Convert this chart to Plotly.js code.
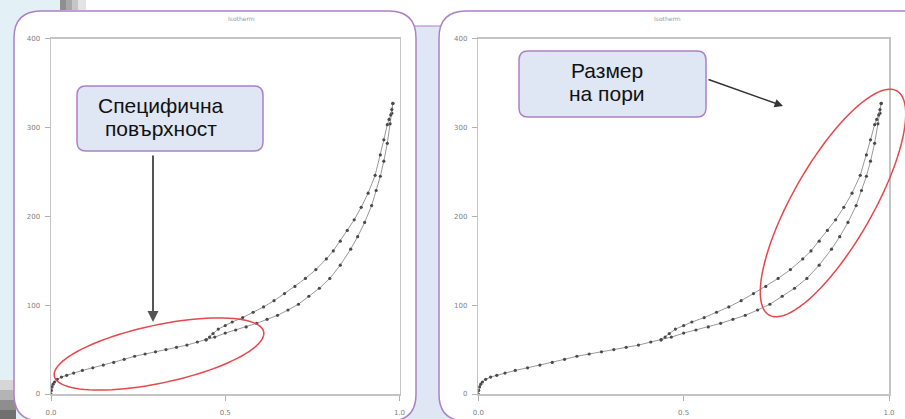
<!DOCTYPE html>
<html>
<head>
<meta charset="utf-8">
<script src="https://cdn.plot.ly/plotly-3.0.1.min.js"></script>
<style>
  html, body { margin: 0; padding: 0; background: #ffffff; }
  #chart { width: 905px; height: 419px; }
</style>
</head>
<body>
<div id="chart"></div>
<script>
// ---- data ----
const chartTitle = "Isotherm";
const adsP = [0.0, 0.001, 0.003, 0.006, 0.01, 0.018, 0.03, 0.045, 0.065, 0.09, 0.12, 0.15, 0.18, 0.21, 0.24, 0.27, 0.30, 0.33, 0.36, 0.39, 0.42, 0.445, 0.47, 0.50, 0.53, 0.56, 0.59, 0.62, 0.65, 0.68, 0.71, 0.74, 0.77, 0.80, 0.83, 0.86, 0.88, 0.90, 0.92, 0.933, 0.945, 0.955, 0.965, 0.973, 0.978, 0.981];
const adsN = [0, 4, 8, 11, 13.5, 16.5, 19, 21, 23.5, 26.5, 29.5, 32.5, 35.5, 39, 42.5, 45, 47.5, 50, 52.5, 55, 58.5, 61, 64, 68.5, 72, 75.5, 79.5, 84, 88.5, 94.5, 101, 110, 119, 130, 145, 163, 177, 193, 212, 229, 245, 262, 282, 304, 316, 327];
const desP = [0.981, 0.978, 0.975, 0.97, 0.965, 0.955, 0.945, 0.93, 0.91, 0.89, 0.87, 0.85, 0.83, 0.81, 0.79, 0.76, 0.73, 0.70, 0.67, 0.64, 0.61, 0.58, 0.55, 0.52, 0.50, 0.48, 0.465, 0.455, 0.445];
const desN = [327, 320, 314, 309, 303, 286, 269, 246, 226, 210, 196, 184, 172, 161, 152, 140, 130, 121, 113, 105, 98, 92, 86, 81, 77, 73, 68, 64, 61];
const yTickVals = [0, 100, 200, 300, 400];
const yTickText = ["0", "100", "200", "300", "400"];
const xTickVals = [0, 0.5, 1.0];
const xTickText = ["0.0", "0.5", "1.0"];
const leftLabel = ["Специфична", "повърхност"];
const rightLabel = ["Размер", "на пори"];

// ---- helpers (pixel -> paper) ----
const W = 905, H = 419;
const px = X => X / W;
const py = Y => 1 - Y / H;

function roundRect(x0, y0, x1, y1, r) {
  const P = (X, Y) => px(X) + ',' + py(Y);
  return 'M' + P(x0 + r, y0) + ' L' + P(x1 - r, y0) + ' Q' + P(x1, y0) + ' ' + P(x1, y0 + r) +
    ' L' + P(x1, y1 - r) + ' Q' + P(x1, y1) + ' ' + P(x1 - r, y1) +
    ' L' + P(x0 + r, y1) + ' Q' + P(x0, y1) + ' ' + P(x0, y1 - r) +
    ' L' + P(x0, y0 + r) + ' Q' + P(x0, y0) + ' ' + P(x0 + r, y0) + ' Z';
}
function ellipsePath(cx, cy, a, b, deg) {
  const th = deg * Math.PI / 180;
  let s = '';
  for (let i = 0; i <= 96; i++) {
    const t = 2 * Math.PI * i / 96;
    const X = cx + a * Math.cos(t) * Math.cos(th) - b * Math.sin(t) * Math.sin(th);
    const Y = cy - (a * Math.cos(t) * Math.sin(th) + b * Math.sin(t) * Math.cos(th));
    s += (i === 0 ? 'M' : ' L') + px(X) + ',' + py(Y);
  }
  return s + ' Z';
}
function rectShape(x0, y0, x1, y1, fill, extra) {
  return Object.assign({type: 'rect', xref: 'paper', yref: 'paper', layer: 'below',
    x0: px(x0), x1: px(x1), y0: py(y1), y1: py(y0), fillcolor: fill, line: {width: 0}}, extra || {});
}

// ---- traces ----
const lineStyle = {color: '#999999', width: 1};
const markerStyle = {color: '#4a4a4a', size: 3.2, line: {width: 0}};
function branch(xs, ys, xa, ya) {
  return {type: 'scatter', mode: 'lines+markers', x: xs, y: ys, xaxis: xa, yaxis: ya,
    line: lineStyle, marker: markerStyle, hoverinfo: 'skip', showlegend: false};
}
const data = [
  branch(adsP, adsN, 'x', 'y'),
  branch(desP, desN, 'x', 'y'),
  branch(adsP, adsN, 'x2', 'y2'),
  branch(desP, desN, 'x2', 'y2')
];

// ---- axes ----
const tickFont = {family: 'DejaVu Sans, Arial, sans-serif', size: 7, color: '#808080'};
function xAxis(d0, d1, anchor) {
  return {domain: [px(d0), px(d1)], range: [0, 1], anchor: anchor, tickvals: xTickVals, ticktext: xTickText,
    showgrid: false, zeroline: false, showline: true, mirror: true, linecolor: '#c4c4c4', linewidth: 1.5,
    ticks: 'outside', ticklen: 5, tickcolor: '#b0b0b0', tickwidth: 1, tickfont: tickFont, ticklabelstandoff: 6,
    fixedrange: true};
}
function yAxis(anchor) {
  return {domain: [py(394), py(38.5)], range: [0, 400], anchor: anchor, tickvals: yTickVals, ticktext: yTickText,
    showgrid: false, zeroline: false, showline: true, mirror: true, linecolor: '#c4c4c4', linewidth: 1.5,
    ticks: 'outside', ticklen: 5, tickcolor: '#b0b0b0', tickwidth: 1, tickfont: tickFont, ticklabelstandoff: 3,
    fixedrange: true};
}

// ---- decoration ----
const purple = '#ad80c6';
const boxFill = '#dfe6f4';
const shapes = [
  rectShape(0, 0, 62, 419, '#e3f1f7'),
  rectShape(60, 0, 66, 10, '#8f8f8f'), rectShape(66, 0, 72, 10, '#a8a8a8'),
  rectShape(72, 0, 78, 10, '#c6c6c6'), rectShape(78, 0, 86, 10, '#e4e4e4'),
  rectShape(0, 380, 16, 390, '#d6d6d6'), rectShape(0, 390, 16, 400, '#b4b4b4'),
  rectShape(0, 400, 16, 410, '#8e8e8e'), rectShape(0, 410, 16, 419, '#707070'),
  rectShape(400, 26, 456, 430, boxFill, {line: {color: purple, width: 1}}),
  {type: 'path', xref: 'paper', yref: 'paper', layer: 'below', path: roundRect(14, 11, 416, 421, 27),
    fillcolor: '#ffffff', line: {color: purple, width: 1.5}},
  {type: 'path', xref: 'paper', yref: 'paper', layer: 'below', path: roundRect(439, 11, 960, 421, 27),
    fillcolor: '#ffffff', line: {color: purple, width: 1.5}},
  {type: 'path', xref: 'paper', yref: 'paper', layer: 'above', path: ellipsePath(159, 354, 107, 29, 12),
    line: {color: '#e8474c', width: 1.5}},
  {type: 'path', xref: 'paper', yref: 'paper', layer: 'above', path: ellipsePath(833, 203, 129, 40, 60.3),
    line: {color: '#e8474c', width: 1.5}},
  {type: 'path', xref: 'paper', yref: 'paper', layer: 'above', path: roundRect(77, 86, 263, 151, 9),
    fillcolor: boxFill, line: {color: purple, width: 1.5}},
  {type: 'path', xref: 'paper', yref: 'paper', layer: 'above', path: roundRect(519, 51, 706, 117, 9),
    fillcolor: boxFill, line: {color: purple, width: 1.5}}
];

const labelFont = {family: 'Liberation Sans, Arial, sans-serif', size: 21, color: '#111111'};
function label(text, X, Y) {
  return {xref: 'paper', yref: 'paper', x: px(X), y: py(Y), text: text, showarrow: false,
    xanchor: 'center', yanchor: 'middle', font: labelFont};
}
const titleFont = {family: 'DejaVu Sans, Arial, sans-serif', size: 6, color: '#9a9a9a'};
const annotations = [
  {xref: 'paper', yref: 'paper', x: px(226), y: py(19), yanchor: 'middle', text: chartTitle, showarrow: false, font: titleFont},
  {xref: 'paper', yref: 'paper', x: px(683), y: py(19), yanchor: 'middle', text: chartTitle, showarrow: false, font: titleFont},
  label(leftLabel[0], 161, 105),
  label(leftLabel[1], 161, 128),
  label(rightLabel[0], 607, 71),
  label(rightLabel[1], 607, 93),
  {xref: 'paper', yref: 'paper', x: px(153), y: py(322), ax: 0, ay: -168, text: '', showarrow: true,
    arrowhead: 2, arrowsize: 1.1, arrowwidth: 2, arrowcolor: '#555555', standoff: 0},
  {xref: 'paper', yref: 'paper', x: px(783), y: py(106), ax: -76, ay: -27, text: '', showarrow: true,
    arrowhead: 2, arrowsize: 1.2, arrowwidth: 1.4, arrowcolor: '#333333', standoff: 0}
];

const layout = {
  width: W, height: H,
  margin: {l: 0, r: 0, t: 0, b: 0, pad: 0},
  paper_bgcolor: '#ffffff', plot_bgcolor: 'rgba(0,0,0,0)',
  showlegend: false,
  xaxis: xAxis(51, 399.5, 'y'),
  yaxis: yAxis('x'),
  xaxis2: xAxis(478.3, 889, 'y2'),
  yaxis2: yAxis('x2'),
  shapes: shapes,
  annotations: annotations
};

Plotly.newPlot('chart', data, layout, {displayModeBar: false, staticPlot: true});
</script>
</body>
</html>
